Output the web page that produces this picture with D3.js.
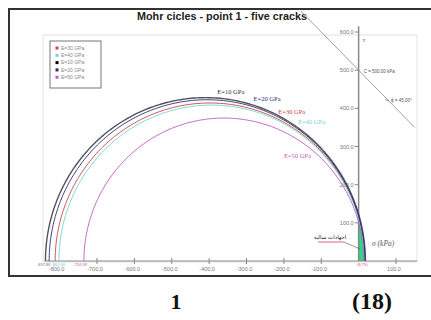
<!DOCTYPE html>
<html>
<head>
<meta charset="utf-8">
<script src="https://cdn.jsdelivr.net/npm/d3@7"></script>
<style>
  body { margin: 0; background: #fff; }
  svg { display: block; }
</style>
</head>
<body>
<div id="chart"></div>
<script>
// Mohr circles - point 1 - five cracks
const moduli = ["E=30 GPa", "E=40 GPa", "E=10 GPa", "E=20 GPa", "E=50 GPa"];
const colors = ["#cc4444", "#6fd8cf", "#555555", "#2a2a80", "#c25ac2"];
const sigmaMin = [-812.0, -802.0, -837.86, -828.0, -734.98]; // left intercept (kPa)
const sigmaMax = [16, 15, 18, 17, 14]; // right intercept (kPa)
const labelOrder = [2, 3, 0, 1, 4];
const labelPos = [[-378, 438], [-281, 418], [-215, 384], [-162, 360], [-200, 270]]; // [sigma, tau] of text
const xTicks = [-700, -600, -500, -400, -300, -200, -100, 100];
const yTicks = [100, 200, 300, 400, 500, 600];
const cohesion = 500; // kPa
const phi = 45; // deg
const envelope = [-155, 150]; // sigma range of the line

const W = 431, H = 320;
const svg = d3.select("#chart").append("svg").attr("width", W).attr("height", H);

const x = d3.scaleLinear().domain([-700, 100]).range([97, 396]);
const y = d3.scaleLinear().domain([0, 600]).range([261, 32]);

// outer frame
svg.append("rect").attr("x", 9).attr("y", 9).attr("width", 440).attr("height", 267)
  .attr("fill", "#fff").attr("stroke", "#333").attr("stroke-width", 2);

svg.append("text")
  .attr("x", 222).attr("y", 20)
  .attr("text-anchor", "middle")
  .attr("font-family", "Liberation Sans, Arial, sans-serif")
  .attr("font-weight", "bold").attr("font-size", "10.5px")
  .attr("textLength", 170).attr("lengthAdjust", "spacingAndGlyphs")
  .attr("fill", "#222")
  .text("Mohr cicles - point 1 - five cracks");

// plot area border
svg.append("rect").attr("x", 43).attr("y", 35).attr("width", 374).attr("height", 227)
  .attr("fill", "none").attr("stroke", "#e2e2e2").attr("stroke-width", 1);

// green zone between sigma = 0 and outer circle
const outer = 2;
const c0 = (sigmaMin[outer] + sigmaMax[outer]) / 2, r0 = (sigmaMax[outer] - sigmaMin[outer]) / 2;
const tauTop = Math.sqrt(r0 * r0 - c0 * c0);
const greenPts = [[0, 0]];
d3.range(0, 1.0001, 0.05).forEach(t => {
  const tau = tauTop * t;
  greenPts.push([c0 + Math.sqrt(r0 * r0 - tau * tau), tau]);
});
svg.append("path")
  .attr("d", d3.line().x(d => x(d[0])).y(d => y(d[1]))(greenPts.concat([[0, 0]])))
  .attr("fill", "#22dd88").attr("stroke", "none");

// envelope line
svg.append("line")
  .attr("x1", x(envelope[0])).attr("y1", y(cohesion - Math.tan(phi * Math.PI / 180) * envelope[0]))
  .attr("x2", x(envelope[1])).attr("y2", y(cohesion - Math.tan(phi * Math.PI / 180) * envelope[1]))
  .attr("stroke", "#a0a0a0").attr("stroke-width", 1);

// x axis
const axisFont = "Liberation Sans, Arial, sans-serif";
svg.append("line").attr("x1", 45).attr("x2", 417).attr("y1", y(0)).attr("y2", y(0))
  .attr("stroke", "#888").attr("stroke-width", 1);
xTicks.forEach(v => {
  svg.append("line").attr("x1", x(v)).attr("x2", x(v)).attr("y1", y(0) - 3).attr("y2", y(0) + 3)
    .attr("stroke", "#888");
  svg.append("text").attr("x", x(v) - 2).attr("y", y(0) + 10)
    .attr("text-anchor", "middle").attr("font-family", axisFont).attr("font-size", "5.5px")
    .attr("fill", "#777").text(v.toFixed(1));
});
svg.append("text").attr("x", x(-800) - 3).attr("y", y(0) + 10)
  .attr("text-anchor", "middle").attr("font-family", axisFont).attr("font-size", "5.5px")
  .attr("fill", "#777").text((-800).toFixed(1));

// y axis
svg.append("line").attr("x1", x(0)).attr("x2", x(0)).attr("y1", y(615)).attr("y2", y(0))
  .attr("stroke", "#888").attr("stroke-width", 1.5);
yTicks.forEach(v => {
  svg.append("line").attr("x1", x(0) - 4).attr("x2", x(0)).attr("y1", y(v)).attr("y2", y(v))
    .attr("stroke", "#888");
  svg.append("text").attr("x", x(0) - 5).attr("y", y(v) + 2)
    .attr("text-anchor", "end").attr("font-family", axisFont).attr("font-size", "5.5px")
    .attr("fill", "#777").text(v.toFixed(1));
});

// circles
moduli.forEach((m, i) => {
  const c = (sigmaMin[i] + sigmaMax[i]) / 2, r = (sigmaMax[i] - sigmaMin[i]) / 2;
  const pts = d3.range(0, 181).map(a => {
    const t = a * Math.PI / 180;
    return [c + r * Math.cos(t), r * Math.sin(t)];
  });
  svg.append("path")
    .attr("d", d3.line().x(d => x(d[0])).y(d => y(d[1]))(pts))
    .attr("fill", "none").attr("stroke", colors[i])
    .attr("stroke-width", i === 2 ? 1.4 : 0.9);
});

// intercept labels
const ilab = (txt, xp, anchor, col) => svg.append("text").attr("x", xp).attr("y", y(0) + 5)
  .attr("text-anchor", anchor).attr("font-family", axisFont).attr("font-size", "4px")
  .attr("fill", col).text(txt);
ilab(sigmaMin[2].toFixed(2), x(sigmaMin[2]) + 5, "end", "#777");
ilab(sigmaMin[1].toFixed(2), x(sigmaMin[2]) + 6, "start", "#5fc8c0");
ilab(sigmaMin[4].toFixed(2), x(sigmaMin[4]) - 4, "middle", "#c25ac2");
ilab("(8.79)", x(10), "middle", "#e05070");

// circle labels
labelOrder.forEach((i, k) => {
  svg.append("text").attr("x", x(labelPos[k][0])).attr("y", y(labelPos[k][1]))
    .attr("font-family", "Liberation Serif, Times New Roman, serif").attr("font-size", "6.5px")
    .attr("fill", i === 2 ? "#333" : colors[i]).text(moduli[i]);
});

// legend
const lg = svg.append("g").attr("transform", "translate(50,41)");
lg.append("rect").attr("width", 51).attr("height", 47)
  .attr("fill", "#fff").attr("stroke", "#777").attr("stroke-width", 1);
moduli.forEach((m, i) => {
  const row = lg.append("g").attr("transform", `translate(0,${7 + i * 7.3})`);
  row.append("rect").attr("x", 5.5).attr("y", -1.5).attr("width", 3).attr("height", 3)
    .attr("fill", i === 2 ? "#000" : colors[i]);
  row.append("text").attr("x", 11).attr("y", 1.8)
    .attr("font-family", axisFont).attr("font-size", "5px").attr("fill", "#888").text(m);
});

// axis labels
svg.append("text").attr("x", x(0) + 4).attr("y", y(575))
  .attr("font-family", "Liberation Serif, serif").attr("font-style", "italic")
  .attr("font-size", "7px").attr("fill", "#555").text("τ");
svg.append("text").attr("x", 372).attr("y", 246)
  .attr("font-family", "Liberation Serif, serif").attr("font-style", "italic")
  .attr("font-size", "7.5px").attr("fill", "#555").text("σ   (kPa)");

// envelope annotations
svg.append("text").attr("x", x(0) + 5).attr("y", y(cohesion) + 3)
  .attr("font-family", axisFont).attr("font-size", "4.5px").attr("fill", "#555")
  .text("C = " + cohesion.toFixed(2) + " kPa");
svg.append("path").attr("d", "M385,99 q2,3 4,1").attr("fill", "none").attr("stroke", "#777").attr("stroke-width", 0.7);
svg.append("text").attr("x", 391).attr("y", 102)
  .attr("font-family", axisFont).attr("font-size", "4.5px").attr("fill", "#555")
  .text("ϕ = " + phi.toFixed(2) + "°");

// arabic note with pointer
svg.append("text").attr("x", 330).attr("y", 239).attr("text-anchor", "middle")
  .attr("font-family", "DejaVu Sans, sans-serif").attr("font-size", "5.5px").attr("fill", "#222")
  .text("اجهادات سالبة");
svg.append("line").attr("x1", 318).attr("x2", 344).attr("y1", 242).attr("y2", 242)
  .attr("stroke", "#d04060").attr("stroke-width", 0.8);
svg.append("line").attr("x1", 344).attr("x2", 360).attr("y1", 242).attr("y2", 249)
  .attr("stroke", "#555").attr("stroke-width", 0.6);

// page labels below figure
svg.append("text").attr("x", 176).attr("y", 309).attr("text-anchor", "middle")
  .attr("font-family", "Liberation Serif, Times New Roman, serif").attr("font-weight", "bold")
  .attr("font-size", "22px").attr("fill", "#111").text("1");
svg.append("text").attr("x", 372).attr("y", 309).attr("text-anchor", "middle")
  .attr("font-family", "Liberation Serif, Times New Roman, serif").attr("font-weight", "bold")
  .attr("font-size", "24px").attr("fill", "#111").text("(18)");
</script>
</body>
</html>
